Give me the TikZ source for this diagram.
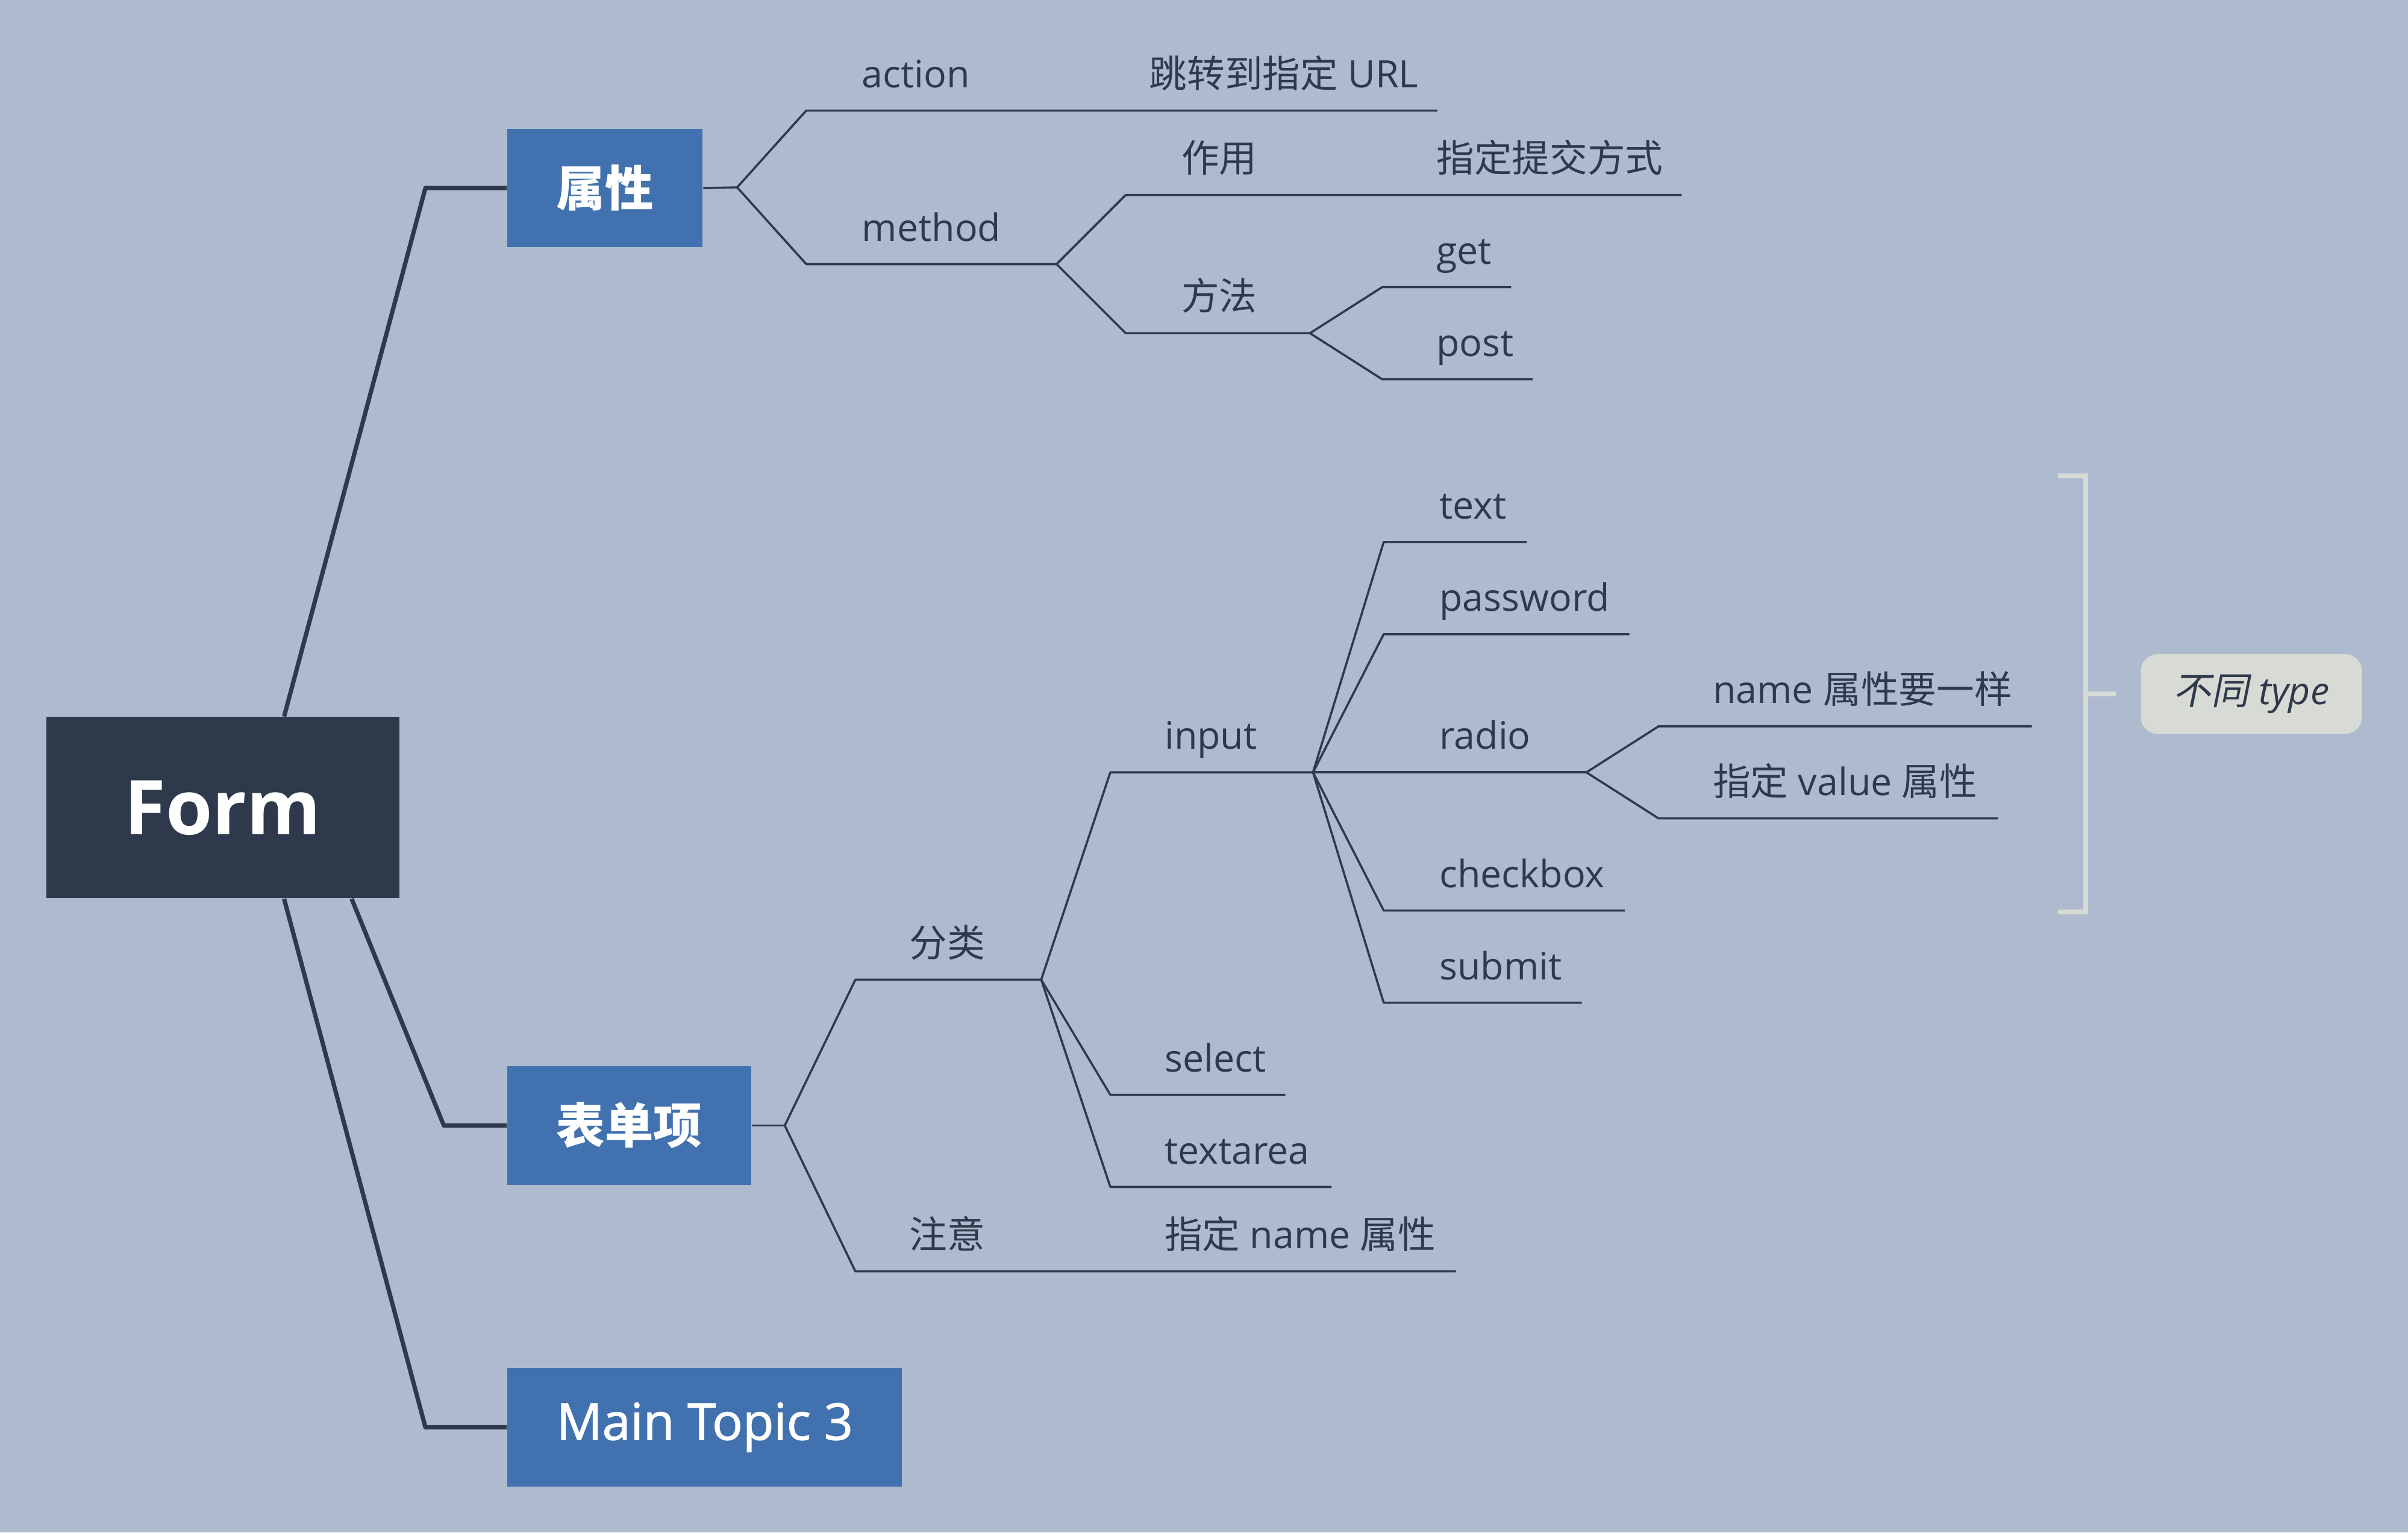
\documentclass[tikz,border=0pt]{standalone}
\usepackage{fontspec}
\setmainfont{Open Sans}
\newfontface\semib{Open Sans}[FakeBold=1.5]
\newfontfamily\cjk{Noto Sans CJK SC}[AutoFakeSlant=0.2]
\definecolor{bgcol}{RGB}{174,187,207}
\definecolor{ink}{RGB}{46,58,75}
\definecolor{topicblue}{RGB}{65,114,175}
\definecolor{notegray}{RGB}{216,218,213}
\tikzset{
  central/.style={fill=ink, text=white, font=\fontsize{28}{34}\selectfont\bfseries,
    minimum width=4.6cm, minimum height=2.36cm, inner sep=0pt},
  maintopic/.style={fill=topicblue, text=white, anchor=west, inner xsep=0.64cm,
    minimum height=1.54cm, inner ysep=0pt, font=\fontsize{18}{22}\selectfont},
  lbl/.style={anchor=base west, inner sep=0pt, text=ink, font=\fontsize{14}{17}\selectfont},
  mainedge/.style={draw=ink, line width=1.6pt, line join=round},
  subedge/.style={draw=ink, line width=0.8pt, line join=round},
  bracket/.style={draw=notegray, line width=1.8pt},
  summary/.style={fill=notegray, rounded corners=0.22cm, minimum width=2.88cm,
    minimum height=1.04cm, text=ink, font=\fontsize{14}{17}\selectfont\itshape}
}
\begin{document}
\begin{tikzpicture}[x=0.02cm, y=-0.02cm]
\fill[bgcol] (0,0) rectangle (1568,998);

% central topic and main topics
\node[central] (form) at (145,526) {Form};
\node[maintopic] (shuxing) at (330,122.5) {\cjk\bfseries 属性};
\node[maintopic] (biaodan) at (330,733) {\cjk\bfseries 表单项};
\node[maintopic, font=\fontsize{18.8}{22}\selectfont\semib] (topic3) at (330,929.5) {Main Topic 3};

\draw[mainedge] ([xshift=0.8cm]form.north) -- ([shift={(-53,0)}]shuxing.west) -- (shuxing.west);
\draw[mainedge] ([xshift=1.68cm]form.south) -- ([shift={(-41,0)}]biaodan.west) -- (biaodan.west);
\draw[mainedge] ([xshift=0.8cm]form.south) -- ([shift={(-53,0)}]topic3.west) -- (topic3.west);

% junctions and line ends
\coordinate (jSx) at (480,122);
\coordinate (jMethod) at (688,172);
\coordinate (jFangfa) at (853,217);
\coordinate (eAction) at (936,72);
\coordinate (eZuoyong) at (1095,127);
\coordinate (eGet) at (984,187);
\coordinate (ePost) at (998,247);
\coordinate (jBd) at (511,733);
\coordinate (jFenlei) at (678,638);
\coordinate (eZhuyi) at (948,828);
\coordinate (jInput) at (855,503);
\coordinate (eSelect) at (837,713);
\coordinate (eTextarea) at (867,773);
\coordinate (eText) at (994,353);
\coordinate (ePassword) at (1061,413);
\coordinate (jRadio) at (1033,503);
\coordinate (eCheckbox) at (1058,593);
\coordinate (eSubmit) at (1030,653);
\coordinate (eName) at (1323,473);
\coordinate (eValue) at (1301,533);

% 属性
\node[lbl] (action) at (561,57) {action};
\node[lbl] (url) at (748,57) {{\cjk 跳转到指定} URL};
\node[lbl] (method) at (561,157) {method};
\node[lbl] (zuoyong) at (769,112) {\cjk 作用};
\node[lbl] (tijiao) at (935,112) {\cjk 指定提交方式};
\node[lbl] (fangfa) at (769,202) {\cjk 方法};
\node[lbl] (get) at (935,172) {get};
\node[lbl] (post) at (935,232) {post};

\draw[subedge] (shuxing.east) -- (jSx);
\draw[subedge] (jSx) -- ++(45,-50) -- (eAction);
\draw[subedge] (jSx) -- ++(45,50) -- (jMethod);
\draw[subedge] (jMethod) -- ++(45,-45) -- (eZuoyong);
\draw[subedge] (jMethod) -- ++(45,45) -- (jFangfa);
\draw[subedge] (jFangfa) -- ++(47,-30) -- (eGet);
\draw[subedge] (jFangfa) -- ++(47,30) -- (ePost);

% 表单项
\node[lbl] (fenlei) at (592,623) {\cjk 分类};
\node[lbl] (zhuyi) at (592,813) {\cjk 注意};
\node[lbl] (zdname) at (758,813) {{\cjk 指定} name {\cjk 属性}};
\node[lbl] (input) at (758,488) {input};
\node[lbl] (select) at (758,698) {select};
\node[lbl] (textarea) at (758,758) {textarea};
\node[lbl] (text) at (937,338) {text};
\node[lbl] (password) at (937,398) {password};
\node[lbl] (radio) at (937,488) {radio};
\node[lbl] (checkbox) at (937,578) {checkbox};
\node[lbl] (submit) at (937,638) {submit};
\node[lbl] (samename) at (1115,458) {name {\cjk 属性要一样}};
\node[lbl] (zdvalue) at (1115,518) {{\cjk 指定} value {\cjk 属性}};

\draw[subedge] (biaodan.east) -- (jBd);
\draw[subedge] (jBd) -- ++(46,-95) -- (jFenlei);
\draw[subedge] (jBd) -- ++(46,95) -- (eZhuyi);
\draw[subedge] (jFenlei) -- ++(45,-135) -- (jInput);
\draw[subedge] (jFenlei) -- ++(45,75) -- (eSelect);
\draw[subedge] (jFenlei) -- ++(45,135) -- (eTextarea);
\draw[subedge] (jInput) -- ++(46,-150) -- (eText);
\draw[subedge] (jInput) -- ++(46,-90) -- (ePassword);
\draw[subedge] (jInput) -- (jRadio);
\draw[subedge] (jInput) -- ++(46,90) -- (eCheckbox);
\draw[subedge] (jInput) -- ++(46,150) -- (eSubmit);
\draw[subedge] (jRadio) -- ++(47,-30) -- (eName);
\draw[subedge] (jRadio) -- ++(47,30) -- (eValue);

% summary
\node[summary] (butong) at (1466,452) {{\cjk 不同} type};
\draw[bracket] (1340,310) -- (1358,310) -- (1358,594) -- (1340,594);
\draw[bracket] (1358,452) -- ([shift={(-16,0)}]butong.west);
\end{tikzpicture}
\end{document}
